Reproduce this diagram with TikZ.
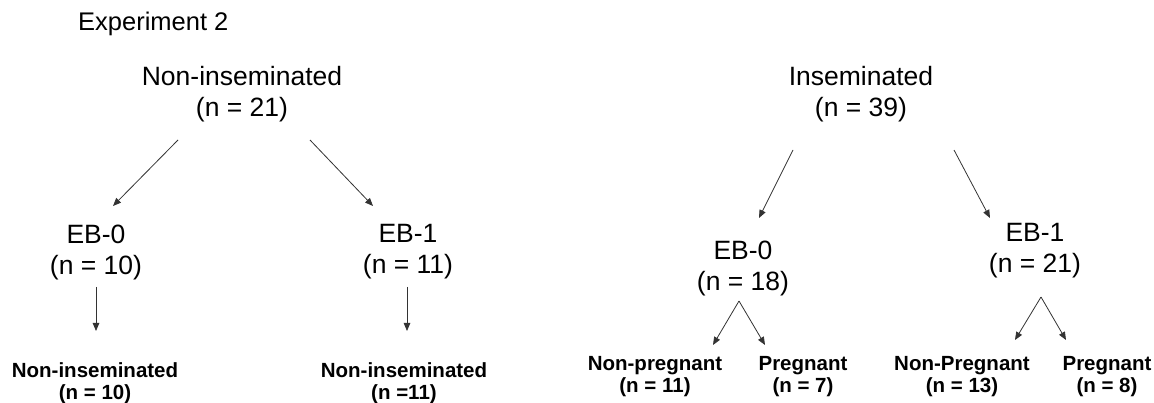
\documentclass[tikz,border=0pt]{standalone}
\usepackage{fontspec}
\setmainfont{Liberation Sans}
\usetikzlibrary{arrows.meta}
\begin{document}
\begin{tikzpicture}[x=1pt,y=-1pt,
  big/.style={font=\fontsize{26.5}{31}\selectfont, align=center, inner sep=0pt},
  small/.style={font=\fontsize{20.5}{22}\selectfont\bfseries, align=center, inner sep=0pt},
  arr/.style={draw=black!80, line width=0.8pt, -{Triangle[length=8pt,width=6.5pt]}}]
\useasboundingbox[fill=white] (0,0) rectangle (1154,403);
\node[big, anchor=west, font=\fontsize{25.5}{28}\selectfont] (exp) at (78,24) {Experiment 2};
\node[big] (top1) at (242,94) {Non-inseminated\\(n = 21)};
\node[big] (top2) at (861,94) {Inseminated\\(n = 39)};
\node[big] (ebA) at (96,252) {EB-0\\(n = 10)};
\node[big] (ebB) at (408,252) {EB-1\\(n = 11)};
\node[big] (ebC) at (743,268) {EB-0\\(n = 18)};
\node[big] (ebD) at (1035,251) {EB-1\\(n = 21)};
\node[small] (botA) at (95,383) {Non-inseminated\\(n = 10)};
\node[small] (botB) at (404,383) {Non-inseminated\\(n =11)};
\node[small] (botC) at (655,377) {Non-pregnant\\(n = 11)};
\node[small] (botD) at (803,377) {Pregnant\\(n = 7)};
\node[small] (botE) at (962,377) {Non-Pregnant\\(n = 13)};
\node[small] (botF) at (1107,377) {Pregnant\\(n = 8)};
% connector ends
\coordinate (t1l) at (178,140); \coordinate (eAt) at (113,206);
\coordinate (t1r) at (310,140); \coordinate (eBt) at (373,206);
\coordinate (eAb) at (96,287);  \coordinate (bAt) at (96,331);
\coordinate (eBb) at (407,287); \coordinate (bBt) at (407,331);
\coordinate (t2l) at (793,150); \coordinate (eCt) at (759,218);
\coordinate (t2r) at (954,150); \coordinate (eDt) at (990,218);
\coordinate (eCb) at (739,301); \coordinate (bCt) at (713,345); \coordinate (bDt) at (765,345);
\coordinate (eDb) at (1041,297); \coordinate (bEt) at (1015,340); \coordinate (bFt) at (1066,340);
\draw[arr] (t1l) -- (eAt);
\draw[arr] (t1r) -- (eBt);
\draw[arr] (eAb) -- (bAt);
\draw[arr] (eBb) -- (bBt);
\draw[arr] (t2l) -- (eCt);
\draw[arr] (t2r) -- (eDt);
\draw[arr] (eCb) -- (bCt);
\draw[arr] (eCb) -- (bDt);
\draw[arr] (eDb) -- (bEt);
\draw[arr] (eDb) -- (bFt);
\end{tikzpicture}
\end{document}
